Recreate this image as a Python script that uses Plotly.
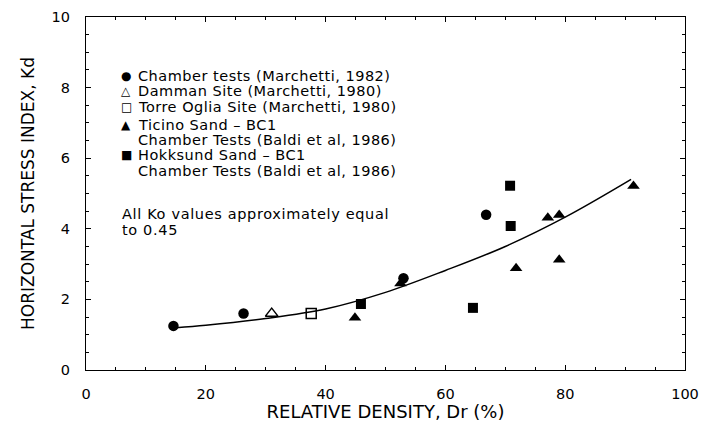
import plotly.graph_objects as go

# Data
chamber_x = [14.6, 26.3, 53.0, 66.8]
chamber_y = [1.25, 1.6, 2.6, 4.4]
damman_x = [31.0]
damman_y = [1.6]
torre_x = [37.6]
torre_y = [1.6]
ticino_x = [44.9, 52.5, 71.8, 77.1, 79.0, 79.0, 91.4]
ticino_y = [1.48, 2.45, 2.88, 4.31, 4.39, 3.12, 5.21]
hokk_x = [45.9, 64.6, 70.8, 70.9]
hokk_y = [1.87, 1.76, 5.22, 4.08]
curve_x = [15, 20, 30, 40, 50, 60, 70, 80, 91]
curve_y = [1.2, 1.27, 1.46, 1.73, 2.2, 2.82, 3.5, 4.33, 5.4]

legend_symbols = ["●", "△", "□", "▲", "", "■", ""]
legend_lines = ["Chamber tests (Marchetti, 1982)", "Damman Site (Marchetti, 1980)",
                "Torre Oglia Site (Marchetti, 1980)", "Ticino Sand – BC1",
                "Chamber Tests (Baldi et al, 1986)", "Hokksund Sand – BC1",
                "Chamber Tests (Baldi et al, 1986)"]
note_lines = ["All Ko values approximately equal", "to 0.45"]

FONT = "DejaVu Sans"
# plot-area geometry (pixels) used to place legend/notes in paper coordinates
PL, PR, PT, PB = 86, 685, 17, 370
def px(x):
    return (x - PL) / (PR - PL)
def py(y):
    return (PB - y) / (PB - PT)
def spaced(t, ls=0.5):
    return '<span style="letter-spacing:%spx">' % ls + t + '</span>'

fig = go.Figure()
fig.add_trace(go.Scatter(x=curve_x, y=curve_y, mode="lines", line=dict(color="black", width=1.5, shape="spline"), showlegend=False))
fig.add_trace(go.Scatter(x=chamber_x, y=chamber_y, mode="markers", name=legend_lines[0], showlegend=False,
                         marker=dict(symbol="circle", size=10.5, color="black")))
fig.add_trace(go.Scatter(x=damman_x, y=damman_y, mode="markers", name=legend_lines[1], showlegend=False,
                         marker=dict(symbol="triangle-up-open", size=11, color="black", line=dict(width=1.3))))
fig.add_trace(go.Scatter(x=torre_x, y=torre_y, mode="markers", name=legend_lines[2], showlegend=False,
                         marker=dict(symbol="square-open", size=10, color="black", line=dict(width=1.5))))
fig.add_trace(go.Scatter(x=ticino_x, y=ticino_y, mode="markers", name=legend_lines[3], showlegend=False,
                         marker=dict(symbol="triangle-up", size=11, color="black")))
fig.add_trace(go.Scatter(x=hokk_x, y=hokk_y, mode="markers", name=legend_lines[5], showlegend=False,
                         marker=dict(symbol="square", size=10, color="black")))

leg_y = [76, 91, 107, 125, 140, 155, 171]
for sym, txt, yy in zip(legend_symbols, legend_lines, leg_y):
    if sym:
        fig.add_annotation(x=px(126), y=py(yy), xref="paper", yref="paper", xanchor="center", yanchor="middle",
                           showarrow=False, text=sym, font=dict(size=12, color="black", family=FONT))
    fig.add_annotation(x=px(136), y=py(yy), xref="paper", yref="paper", xanchor="left", yanchor="middle",
                       showarrow=False, text=spaced(txt, 0.5), font=dict(size=14.5, color="black", family=FONT))
for txt, yy in zip(note_lines, [214, 230]):
    fig.add_annotation(x=px(120), y=py(yy), xref="paper", yref="paper", xanchor="left", yanchor="middle",
                       showarrow=False, text=spaced(txt, 0.65), font=dict(size=14.5, color="black", family=FONT))

axis_common = dict(showline=True, linecolor="black", linewidth=1.2, mirror="allticks", ticks="inside",
                   tickcolor="black", ticklen=5, showgrid=False, zeroline=False,
                   tickfont=dict(size=14.5, color="black", family=FONT),
                   minor=dict(ticks="inside", ticklen=3, tickcolor="black"))
fig.update_xaxes(range=[0, 100], dtick=20, ticklabelstandoff=10,
                 title=dict(text="RELATIVE DENSITY, Dr (%)", font=dict(size=18, color="black", family=FONT), standoff=2), **axis_common)
fig.update_yaxes(range=[0, 10], dtick=2, ticklabelstandoff=12,
                 title=dict(text="HORIZONTAL STRESS INDEX, Kd", font=dict(size=17, color="black", family=FONT), standoff=12), **axis_common)
fig.update_layout(width=718, height=429, margin=dict(l=PL - 8, r=718 - PR + 8, t=PT - 8, b=429 - PB + 8, autoexpand=False),
                  plot_bgcolor="white", paper_bgcolor="white", showlegend=False)
fig.write_html("out.html")
